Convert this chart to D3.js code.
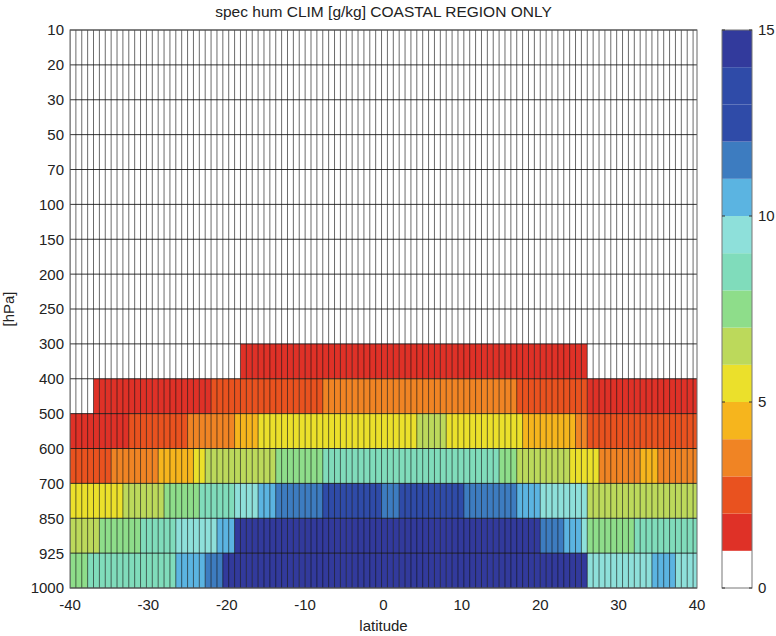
<!DOCTYPE html>
<html lang="en">
<head>
<meta charset="UTF-8">
<title>spec hum CLIM</title>
<script src="https://d3js.org/d3.v7.min.js"></script>
<style>
  body { margin: 0; background: #fff; }
  text { font-family: "Liberation Sans", Arial, sans-serif; fill: #222; }
</style>
</head>
<body>
<div id="chart"></div>
<script>
const width = 776;
const height = 636;

// pressure levels (row boundaries), top to bottom
const levels = [10, 20, 30, 50, 70, 100, 150, 200, 250, 300, 400, 500, 600, 700, 850, 925, 1000];
const latTicks = [-40, -30, -20, -10, 0, 10, 20, 30, 40];
const cbTicks = [0, 5, 10, 15];

// grid: 0.75 deg columns starting at -40
const latStart = -40;
const latStep = 0.75;

// one colour per 1 g/kg band, 0..15
const bandColors = ["#ffffff", "#df3127", "#e9521f", "#f08424", "#f6b51d", "#ebe02b", "#bcd95b", "#8edd8a",
    "#80dcbb", "#8ee0da", "#5bb4e1", "#3d7cc0", "#2f4ba8", "#2f4ba8", "#323a9c"];

// specific humidity [g/kg] per column (0 = no data / white)
const q300 = [
    0,0,0,0,0,0,0,0,0,0, 0,0,0,0,0,0,0,0,0,0, 0,0,0,0,0,0,0,0,0,
    1.5,1.5,1.5,1.5,1.5,1.5,1.5,1.5,1.5,1.5, 1.5,1.5,1.5,1.5,1.5,1.5,1.5,1.5,1.5,1.5,
    1.5,1.5,1.5,1.5,1.5,1.5,1.5,1.5,1.5,1.5, 1.5,1.5,1.5,1.5,1.5,1.5,1.5,1.5,1.5,1.5,
    1.5,1.5,1.5,1.5,1.5,1.5,1.5,1.5,1.5,1.5, 1.5,1.5,1.5,1.5,1.5,1.5,1.5,1.5,1.5,
    0,0,0,0,0,0,0,0,0,0, 0,0,0,0,0,0,0,0,0
];
const q400 = [
    0,0,0,0,
    1.5,1.5,1.5,1.5,1.5,1.5,1.5,1.5,1.5,1.5, 1.5,1.5,1.5,1.5,1.5,1.5,1.5,1.5,1.5,1.5,
    2.5,2.5,2.5,2.5,2.5,2.5,2.5,2.5,2.5,2.5, 2.5,2.5,2.5,2.5,2.5,2.5,2.5,2.5,2.5,
    3.5,3.5,3.5,3.5,3.5,3.5,3.5,3.5,3.5,3.5, 3.5,3.5,3.5,3.5,3.5,3.5,3.5,3.5,3.5,3.5,
    3.5,3.5,3.5,3.5,3.5,3.5,3.5,3.5,3.5,3.5, 3.5,3.5,3.5,
    2.5,2.5,2.5,2.5,2.5,2.5,2.5,2.5,2.5,2.5, 2.5,2.5,
    1.5,1.5,1.5,1.5,1.5,1.5,1.5,1.5,1.5,1.5, 1.5,1.5,1.5,1.5,1.5,1.5,1.5,1.5,1.5
];
const q500 = [
    1.5,1.5,1.5,1.5,1.5,1.5,1.5,1.5,1.5,1.5,
    2.5,2.5,2.5,2.5,2.5,2.5,2.5,2.5,2.5,2.5,
    3.5,3.5,3.5,3.5,3.5,3.5,3.5,3.5,
    4.5,4.5,4.5,4.5,
    5.5,5.5,5.5,5.5,5.5,5.5,5.5,5.5,5.5,5.5, 5.5,5.5,5.5,5.5,5.5,5.5,5.5,5.5,5.5,5.5, 5.5,5.5,5.5,5.5,5.5,5.5,5.5,
    6.5,6.5,6.5,6.5,6.5,
    5.5,5.5,5.5,5.5,5.5,5.5,5.5,5.5,5.5,5.5, 5.5,5.5,5.5,
    4.5,4.5,4.5,4.5,4.5,4.5,4.5,4.5,4.5,
    3.5,3.5,
    2.5,2.5,2.5,2.5,2.5,2.5,2.5,2.5,2.5,2.5, 2.5,2.5,2.5,2.5,2.5,2.5,2.5,2.5,2.5
];
const q600 = [
    2.5,2.5,2.5,2.5,2.5,2.5,2.5,
    3.5,3.5,3.5,3.5,3.5,3.5,3.5,3.5,
    4.5,4.5,4.5,4.5,4.5,4.5,
    5.5,5.5,
    6.5,6.5,6.5,6.5,6.5,6.5,6.5,6.5,6.5,6.5, 6.5,6.5,
    7.5,7.5,7.5,7.5,7.5,7.5,7.5,7.5,
    8.5,8.5,8.5,8.5,8.5,8.5,8.5,8.5,8.5,8.5, 8.5,8.5,8.5,8.5,8.5,8.5,8.5,8.5,8.5,8.5, 8.5,8.5,8.5,8.5,8.5,8.5,8.5,8.5,8.5,8.5,
    7.5,7.5,7.5,
    6.5,6.5,6.5,6.5,6.5,6.5,6.5,6.5,6.5,
    5.5,5.5,5.5,5.5,5.5,
    3.5,3.5,3.5,3.5,3.5,3.5,3.5,
    4.5,4.5,4.5,
    3.5,3.5,3.5,3.5,3.5,3.5,3.5
];
const q700 = [
    5.5,5.5,5.5,5.5,5.5,5.5,5.5,5.5,5.5,
    6.5,6.5,6.5,6.5,6.5,6.5,6.5,
    7.5,7.5,7.5,7.5,7.5,7.5,
    8.5,8.5,8.5,8.5,8.5,8.5,
    9.5,9.5,9.5,9.5,
    10.5,10.5,10.5,
    11.5,11.5,11.5,11.5,11.5,11.5,11.5,11.5,
    13,13,13,13,13,13,13,13,13,13,
    11.5,11.5,11.5,
    13,13,13,13,13,13,13,13,13,13, 13,
    11.5,11.5,11.5,11.5,11.5,11.5,11.5,11.5,11.5,
    10.5,10.5,10.5,10.5,
    9.5,9.5,9.5,9.5,9.5,9.5,9.5,9.5,
    6.5,6.5,6.5,6.5,6.5,6.5,6.5,6.5,6.5,6.5, 6.5,6.5,6.5,6.5,6.5,6.5,6.5,6.5,6.5
];
const q850 = [
    6.5,6.5,6.5,6.5,6.5,
    7.5,7.5,7.5,7.5,7.5,7.5,7.5,
    8.5,8.5,8.5,8.5,8.5,8.5,
    9.5,9.5,9.5,9.5,9.5,9.5,9.5,
    10.5,10.5,10.5,
    14.5,14.5,14.5,14.5,14.5,14.5,14.5,14.5,14.5,14.5, 14.5,14.5,14.5,14.5,14.5,14.5,14.5,14.5,14.5,14.5,
    14.5,14.5,14.5,14.5,14.5,14.5,14.5,14.5,14.5,14.5, 14.5,14.5,14.5,14.5,14.5,14.5,14.5,14.5,14.5,14.5,
    14.5,14.5,14.5,14.5,14.5,14.5,14.5,14.5,14.5,14.5, 14.5,14.5,
    11.5,11.5,11.5,11.5,
    10.5,10.5,10.5,
    9.5,
    7.5,7.5,7.5,7.5,7.5,7.5,7.5,7.5,
    8.5,8.5,8.5,8.5,8.5,8.5,8.5,8.5,8.5,8.5, 8.5
];
const q925 = [
    7.5,7.5,7.5,
    8.5,8.5,8.5,8.5,8.5,8.5,8.5,8.5,8.5,8.5, 8.5,8.5,8.5,8.5,8.5,
    10.5,10.5,10.5,10.5,10.5,
    11.5,11.5,11.5,
    14.5,14.5,14.5,14.5,14.5,14.5,14.5,14.5,14.5,14.5, 14.5,14.5,14.5,14.5,14.5,14.5,14.5,14.5,14.5,14.5,
    14.5,14.5,14.5,14.5,14.5,14.5,14.5,14.5,14.5,14.5, 14.5,14.5,14.5,14.5,14.5,14.5,14.5,14.5,14.5,14.5,
    14.5,14.5,14.5,14.5,14.5,14.5,14.5,14.5,14.5,14.5, 14.5,14.5,14.5,14.5,14.5,14.5,14.5,14.5,14.5,14.5,
    14.5,14.5,
    9.5,9.5,9.5,9.5,9.5,9.5,9.5,9.5,9.5,9.5, 9.5,
    10.5,10.5,10.5,10.5,
    9.5,9.5,9.5,9.5
];

// rows with data, keyed by their upper level; rows above 300 hPa have no data
const rows = [
    { top: 300, values: q300 },
    { top: 400, values: q400 },
    { top: 500, values: q500 },
    { top: 600, values: q600 },
    { top: 700, values: q700 },
    { top: 850, values: q850 },
    { top: 925, values: q925 }
];

const margin = { top: 30, right: 79, bottom: 48, left: 70 };
const plotRight = width - margin.right;
const plotBottom = height - margin.bottom;

const svg = d3.select("#chart").append("svg")
    .attr("width", width)
    .attr("height", height)
    .style("display", "block");

const x = d3.scaleLinear().domain([-40, 40]).range([margin.left, plotRight]);
const y = d3.scalePoint().domain(levels).range([margin.top, plotBottom]);

const color = d3.scaleThreshold()
    .domain(d3.range(1, 15))
    .range(bandColors);

svg.append("defs").append("clipPath").attr("id", "plot-clip")
    .append("rect")
    .attr("x", margin.left).attr("y", margin.top)
    .attr("width", plotRight - margin.left).attr("height", plotBottom - margin.top);

const plot = svg.append("g").attr("clip-path", "url(#plot-clip)");

// coloured cells
rows.forEach(row => {
    const lower = levels[levels.indexOf(row.top) + 1];
    plot.append("g").selectAll("rect")
        .data(row.values)
        .enter()
        .append("rect")
        .attr("x", (d, i) => x(latStart + i * latStep))
        .attr("y", y(row.top))
        .attr("width", x(latStart + latStep) - x(latStart) + 0.3)
        .attr("height", y(lower) - y(row.top))
        .attr("fill", d => color(d));
});

// vertical cell edges
const nCols = q300.length;
plot.append("g").selectAll("line")
    .data(d3.range(nCols + 1))
    .enter()
    .append("line")
    .attr("x1", i => x(latStart + i * latStep))
    .attr("x2", i => x(latStart + i * latStep))
    .attr("y1", margin.top)
    .attr("y2", plotBottom)
    .attr("stroke", "#111")
    .attr("stroke-opacity", 0.62)
    .attr("stroke-width", 1);

// horizontal level lines
svg.append("g").selectAll("line")
    .data(levels)
    .enter()
    .append("line")
    .attr("x1", margin.left)
    .attr("x2", plotRight)
    .attr("y1", d => y(d))
    .attr("y2", d => y(d))
    .attr("stroke", "#111")
    .attr("stroke-opacity", 0.85)
    .attr("stroke-width", 1);

svg.append("rect")
    .attr("x", margin.left).attr("y", margin.top)
    .attr("width", plotRight - margin.left).attr("height", plotBottom - margin.top)
    .attr("fill", "none")
    .attr("stroke", "#666")
    .attr("stroke-width", 1);

// axes labels
svg.append("g").selectAll("text")
    .data(levels)
    .enter()
    .append("text")
    .attr("x", margin.left - 6)
    .attr("y", d => y(d))
    .attr("dy", "0.36em")
    .attr("text-anchor", "end")
    .style("font-size", "15px")
    .text(d => d);

svg.append("g").selectAll("text")
    .data(latTicks)
    .enter()
    .append("text")
    .attr("x", d => x(d))
    .attr("y", plotBottom + 22)
    .attr("text-anchor", "middle")
    .style("font-size", "15px")
    .text(d => d);

svg.append("text")
    .attr("x", (margin.left + plotRight) / 2)
    .attr("y", height - 5)
    .attr("text-anchor", "middle")
    .style("font-size", "15px")
    .text("latitude");

svg.append("text")
    .attr("transform", `translate(14, ${(margin.top + plotBottom) / 2}) rotate(-90)`)
    .attr("text-anchor", "middle")
    .style("font-size", "15px")
    .text("[hPa]");

svg.append("text")
    .attr("x", (margin.left + plotRight) / 2)
    .attr("y", 17)
    .attr("text-anchor", "middle")
    .style("font-size", "15.5px")
    .text("spec hum CLIM [g/kg] COASTAL REGION ONLY");

// colorbar
const cbX = 722, cbW = 30;
const cy = d3.scaleLinear().domain([0, 15]).range([plotBottom, margin.top]);
const cb = svg.append("g");

cb.selectAll("rect")
    .data(bandColors)
    .enter()
    .append("rect")
    .attr("x", cbX)
    .attr("y", (d, i) => cy(i + 1))
    .attr("width", cbW)
    .attr("height", (d, i) => cy(i) - cy(i + 1))
    .attr("fill", d => d);

cb.append("rect")
    .attr("x", cbX).attr("y", margin.top)
    .attr("width", cbW).attr("height", plotBottom - margin.top)
    .attr("fill", "none")
    .attr("stroke", "#777")
    .attr("stroke-width", 1);

cb.selectAll("line.tl")
    .data(cbTicks)
    .enter()
    .append("line")
    .attr("x1", cbX).attr("x2", cbX + 3)
    .attr("y1", d => cy(d)).attr("y2", d => cy(d))
    .attr("stroke", "#333");

cb.selectAll("line.tr")
    .data(cbTicks)
    .enter()
    .append("line")
    .attr("x1", cbX + cbW - 3).attr("x2", cbX + cbW)
    .attr("y1", d => cy(d)).attr("y2", d => cy(d))
    .attr("stroke", "#333");

cb.selectAll("text")
    .data(cbTicks)
    .enter()
    .append("text")
    .attr("x", cbX + cbW + 6)
    .attr("y", d => cy(d))
    .attr("dy", "0.36em")
    .style("font-size", "15px")
    .text(d => d);
</script>
</body>
</html>
